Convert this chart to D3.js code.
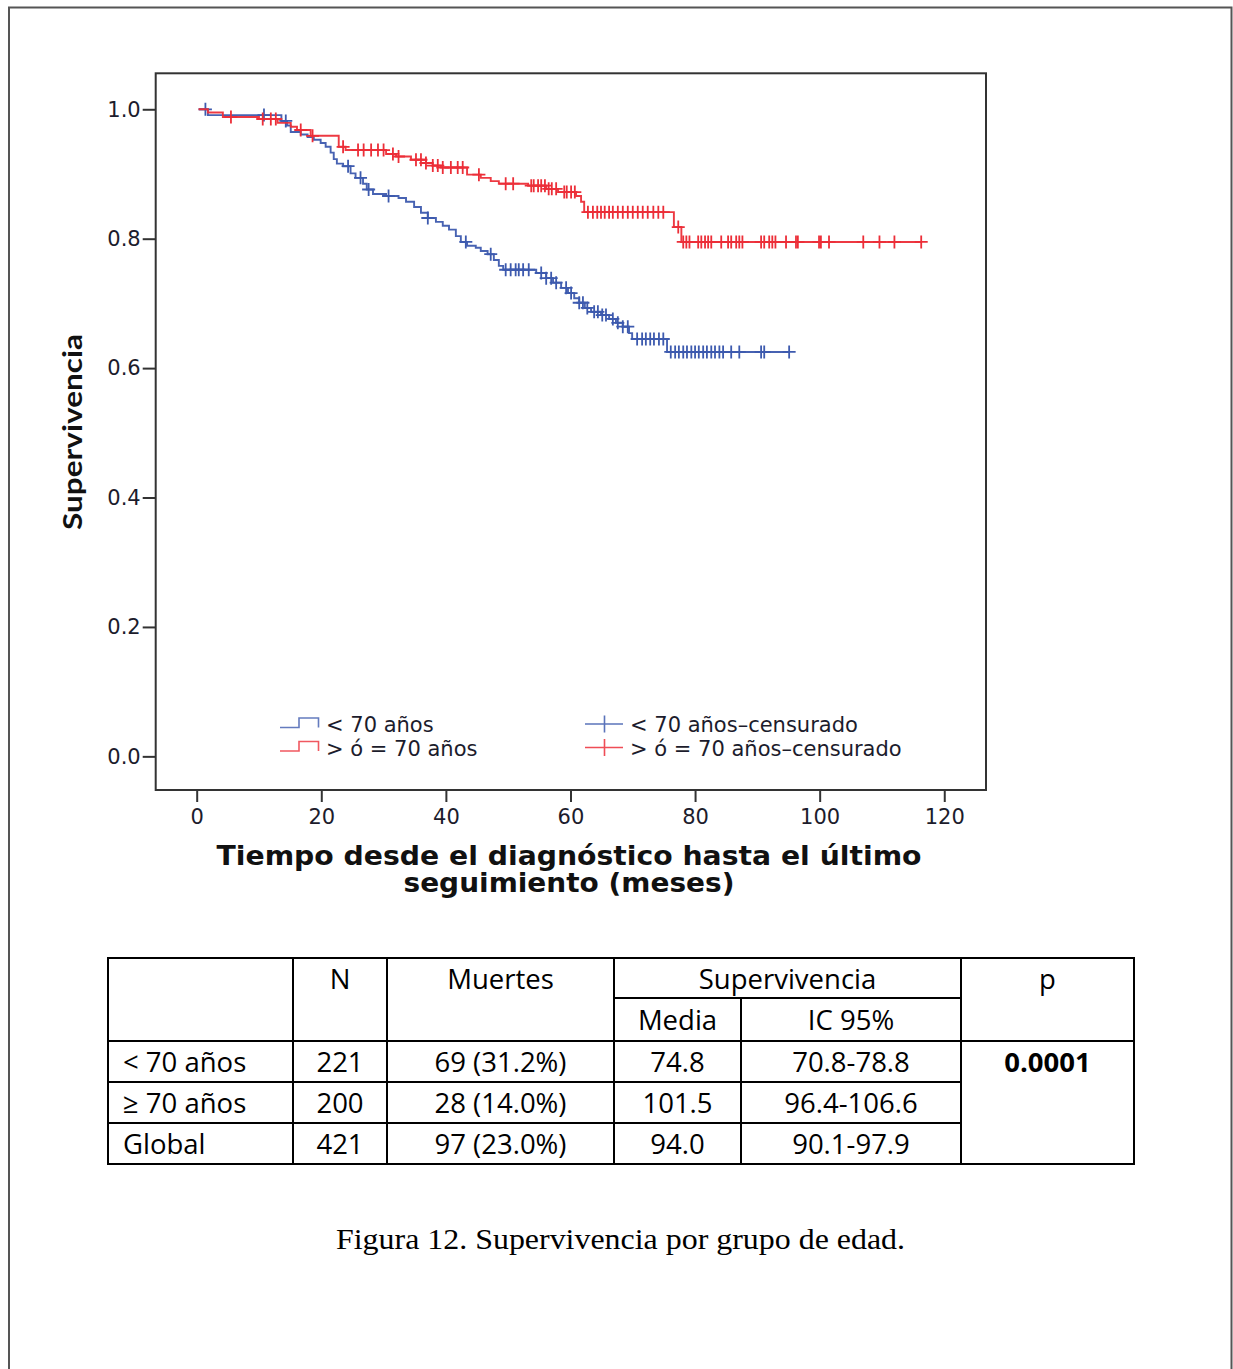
<!DOCTYPE html>
<html><head><meta charset="utf-8">
<script src="https://cdn.jsdelivr.net/npm/d3@7"></script>
<style>body{margin:0;background:#fff}</style>
</head><body>
<svg id="c" width="1233" height="1369"></svg>
<script>
// ---------------- DATA ----------------
const groups = ["< 70 años", "> ó = 70 años"];
const censorLabels = ["< 70 años–censurado", "> ó = 70 años–censurado"];
const xTicks = [0, 20, 40, 60, 80, 100, 120];
const yTicks = [0.0, 0.2, 0.4, 0.6, 0.8, 1.0];
const xTitleLines = ["Tiempo desde el diagnóstico hasta el último", "seguimiento (meses)"];
const yTitle = "Supervivencia";

// < 70 años : [time (months), survival]
const under70Steps = [
  [0.3,1.000],[1.8,0.991],[13.6,0.982],[14.5,0.975],[15.1,0.965],[16.7,0.961],[17.8,0.957],
  [18.8,0.953],[19.9,0.948],[20.7,0.942],[21.5,0.933],[22.0,0.923],[22.5,0.916],[23.5,0.912],
  [24.7,0.901],[25.5,0.894],[26.7,0.885],[27.3,0.876],[28.3,0.869],[30.4,0.866],[32.4,0.863],
  [33.6,0.857],[34.9,0.849],[36.0,0.840],[37.1,0.832],[38.4,0.826],[39.5,0.820],[40.5,0.814],
  [41.6,0.804],[42.4,0.795],[43.4,0.789],[44.8,0.786],[45.6,0.781],[46.7,0.776],[47.7,0.767],
  [48.5,0.758],[49.2,0.752],[54.5,0.747],[56.1,0.739],[57.2,0.732],[58.5,0.724],[59.6,0.716],
  [60.6,0.708],[61.4,0.701],[62.3,0.693],[63.3,0.687],[64.9,0.682],[66.2,0.676],[67.3,0.670],
  [68.4,0.664],[69.4,0.654],[69.9,0.645],[75.5,0.625]
];
const under70End = 95.1;
const under70Censored = [
  1.4,10.8,14.3,24.3,26.3,27.6,30.8,37.1,43.2,47.2,
  49.6,50.4,51.2,51.7,52.4,53.3,55.3,56.1,56.9,57.7,59.3,60.1,61.4,62.0,62.7,
  63.8,64.4,65.1,65.7,66.8,67.6,68.4,69.2,70.7,71.5,72.1,72.8,73.4,74.2,74.9,
  76.1,76.8,77.4,78.1,78.7,79.4,80.0,80.6,81.3,81.9,82.6,83.2,83.9,84.5,
  85.8,87.1,90.6,91.1,95.1
];

// > ó = 70 años
const over70Steps = [
  [0.3,1.000],[1.8,0.995],[4.2,0.988],[10.0,0.985],[13.0,0.979],[15.1,0.973],[16.1,0.968],
  [18.3,0.959],[22.8,0.942],[23.9,0.937],[30.4,0.931],[32.0,0.927],[34.4,0.922],[36.8,0.917],
  [37.9,0.913],[39.2,0.910],[43.4,0.899],[45.6,0.894],[47.2,0.889],[48.5,0.885],[53.2,0.882],
  [56.1,0.877],[58.0,0.872],[60.9,0.866],[61.7,0.857],[62.2,0.841],[76.6,0.818],[77.8,0.795]
];
const over70End = 116.3;
const over70Censored = [
  5.5,10.6,11.9,12.7,16.7,18.6,23.5,25.9,26.8,28.0,29.1,30.0,31.5,32.4,35.2,36.0,36.8,
  37.9,38.7,39.5,40.8,41.9,42.7,45.3,49.6,50.8,53.7,54.1,54.8,55.3,55.9,56.5,57.0,57.7,
  59.0,59.4,60.1,60.7,62.8,63.6,64.3,64.9,65.5,66.2,66.8,67.6,68.4,69.2,70.0,70.8,71.6,
  72.4,73.3,74.1,74.9,77.3,78.1,78.6,79.1,80.5,81.0,81.6,82.1,82.6,84.2,85.3,85.8,86.6,
  87.1,87.6,90.6,91.1,91.9,92.4,92.9,94.6,96.2,96.5,99.9,100.2,101.5,107.0,109.6,112.0,116.3
];

const tableHeader = ["", "N", "Muertes", "Supervivencia", "p"];
const tableSubHeader = ["Media", "IC 95%"];
const tableRows = [
  ["< 70 años", "221", "69 (31.2%)", "74.8", "70.8-78.8"],
  ["≥ 70 años", "200", "28 (14.0%)", "101.5", "96.4-106.6"],
  ["Global", "421", "97 (23.0%)", "94.0", "90.1-97.9"]
];
const pValue = "0.0001";
const caption = "Figura 12. Supervivencia por grupo de edad.";

// ---------------- DRAW ----------------
const svg = d3.select("#c");
const BLUE = "#3d5aae", RED = "#ec2e38", TXT = "#1c1c2c";

// page border
svg.append("path").attr("d", "M9,1369V7.5H1231.5V1369")
  .attr("fill", "none").attr("stroke", "#555").attr("stroke-width", 2);

const L = 155.7, R = 986, T = 73.3, B = 790;
const x = d3.scaleLinear().domain([-6.58, 126.7]).range([L, R]);
const y = d3.scaleLinear().domain([-0.052, 1.0556]).range([B, T]);

// frame
svg.append("rect").attr("x", L).attr("y", T).attr("width", R - L).attr("height", B - T)
  .attr("fill", "none").attr("stroke", "#333").attr("stroke-width", 2);

// axes
const yAxis = svg.append("g").attr("transform", `translate(${L},0)`)
  .call(d3.axisLeft(y).tickValues(yTicks).tickFormat(d3.format(".1f")).tickSize(13).tickPadding(2));
const xAxis = svg.append("g").attr("transform", `translate(0,${B})`)
  .call(d3.axisBottom(x).tickValues(xTicks).tickFormat(d3.format("d")).tickSize(12).tickPadding(7));
[yAxis, xAxis].forEach(a => {
  a.select(".domain").remove();
  a.selectAll(".tick line").attr("stroke", "#333").attr("stroke-width", 2);
  a.selectAll(".tick text").attr("fill", TXT).style("font-family", "DejaVu Sans").style("font-size", "21px");
});

// axis titles
svg.append("text").attr("transform", "translate(82,432) rotate(-90)")
  .attr("text-anchor", "middle").attr("textLength", 196).attr("lengthAdjust", "spacingAndGlyphs")
  .style("font-family", "Lato").style("font-weight", "bold").style("font-size", "27px")
  .attr("fill", "#111").text(yTitle);
xTitleLines.forEach((s, i) => {
  svg.append("text").attr("x", 569).attr("y", 865 + i * 27).attr("text-anchor", "middle")
    .attr("textLength", i === 0 ? 705 : 331).attr("lengthAdjust", "spacingAndGlyphs")
    .style("font-family", "DejaVu Sans").style("font-weight", "bold").style("font-size", "26px")
    .attr("fill", "#111").text(s);
});

// curves
function stepAt(steps, t) {
  let v = steps[0][1];
  for (const s of steps) { if (s[0] <= t) v = s[1]; else break; }
  return v;
}
const series = [
  {steps: under70Steps, end: under70End, cens: under70Censored, color: BLUE},
  {steps: over70Steps, end: over70End, cens: over70Censored, color: RED}
];
const line = d3.line().x(d => x(d[0])).y(d => y(d[1])).curve(d3.curveStepAfter);
const plus = "M-6.5,0H6.5M0,-6.5V6.5";
series.forEach(s => {
  const pts = s.steps.concat([[s.end, s.steps[s.steps.length - 1][1]]]);
  svg.append("path").attr("d", line(pts)).attr("fill", "none")
    .attr("stroke", s.color).attr("stroke-width", 1.9).attr("stroke-opacity", 0.95);
  svg.append("g").selectAll("path").data(s.cens).join("path")
    .attr("transform", t => `translate(${x(t)},${y(stepAt(s.steps, t))})`)
    .attr("d", plus).attr("stroke", s.color).attr("stroke-width", 1.8).attr("fill", "none");
});

// legend
const legY = [727.5, 751];
[BLUE, RED].forEach((c, i) => {
  const yy = legY[i];
  svg.append("path").attr("d", `M280,${yy}H299V${yy - 9.5}H318.5V${yy}`)
    .attr("fill", "none").attr("stroke", c).attr("stroke-width", 1.6).attr("stroke-opacity", 0.8);
  svg.append("text").attr("x", 326).attr("y", yy + 4.5).text(groups[i])
    .style("font-family", "DejaVu Sans").style("font-size", "21px").attr("fill", TXT);
  const cy = yy - 3.5;
  svg.append("path").attr("d", `M585,${cy}H623M604.5,${cy - 8.5}V${cy + 8.5}`)
    .attr("fill", "none").attr("stroke", c).attr("stroke-width", 1.6).attr("stroke-opacity", 0.85);
  svg.append("text").attr("x", 630).attr("y", yy + 4.5).text(censorLabels[i])
    .style("font-family", "DejaVu Sans").style("font-size", "21px").attr("fill", TXT);
});

// table
const cols = [108, 293, 387, 614, 741, 961, 1134];
const rowsY = [958, 998, 1041, 1082, 1123, 1164];
const tg = svg.append("g");
const ln = (x1, y1, x2, y2) => tg.append("line").attr("x1", x1).attr("y1", y1).attr("x2", x2).attr("y2", y2)
  .attr("stroke", "#000").attr("stroke-width", 2);
tg.append("rect").attr("x", cols[0]).attr("y", rowsY[0]).attr("width", cols[6] - cols[0])
  .attr("height", rowsY[5] - rowsY[0]).attr("fill", "none").attr("stroke", "#000").attr("stroke-width", 2);
[1, 2, 3, 5].forEach(i => ln(cols[i], rowsY[0], cols[i], rowsY[5]));
ln(cols[4], rowsY[1], cols[4], rowsY[5]);
ln(cols[3], rowsY[1], cols[5], rowsY[1]);
ln(cols[0], rowsY[2], cols[6], rowsY[2]);
ln(cols[0], rowsY[3], cols[5], rowsY[3]);
ln(cols[0], rowsY[4], cols[5], rowsY[4]);
const cell = (s, cx, cy, anchor = "middle", bold = false) => tg.append("text")
  .attr("x", cx).attr("y", cy).attr("dy", "0.36em").attr("text-anchor", anchor)
  .style("font-family", "Open Sans").style("font-size", "27.5px").style("font-weight", bold ? "bold" : "normal")
  .attr("fill", "#000").text(s);
const mid = (a, b) => (a + b) / 2;
cell(tableHeader[1], mid(cols[1], cols[2]), 979);
cell(tableHeader[2], mid(cols[2], cols[3]), 979);
cell(tableHeader[3], mid(cols[3], cols[5]), 979);
cell(tableHeader[4], mid(cols[5], cols[6]), 979);
cell(tableSubHeader[0], mid(cols[3], cols[4]), 1020);
cell(tableSubHeader[1], mid(cols[4], cols[5]), 1020);
tableRows.forEach((r, i) => {
  const cy = mid(rowsY[i + 2], rowsY[i + 3]) + 0.5;
  cell(r[0], 123, cy, "start");
  for (let j = 1; j < 5; j++) cell(r[j], mid(cols[j], cols[j + 1]), cy);
});
cell(pValue, mid(cols[5], cols[6]), mid(rowsY[2], rowsY[3]) + 0.5, "middle", true);

// caption
svg.append("text").attr("x", 620.5).attr("y", 1249).attr("text-anchor", "middle")
  .attr("textLength", 569).attr("lengthAdjust", "spacingAndGlyphs")
  .style("font-family", "Liberation Serif").style("font-size", "29px").attr("fill", "#000").text(caption);
</script>
</body></html>
